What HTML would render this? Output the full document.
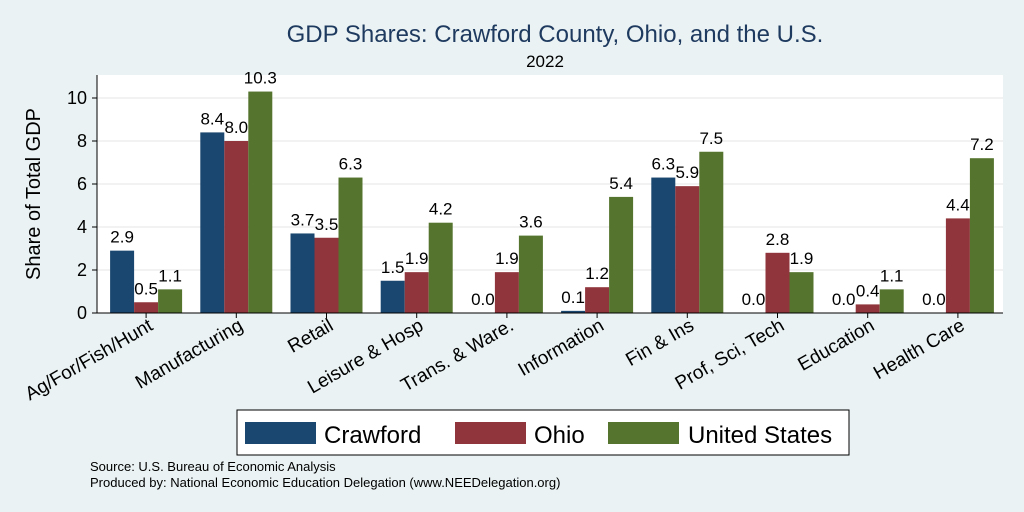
<!DOCTYPE html>
<html><head><meta charset="utf-8"><style>
body{margin:0;background:#eaf2f3;}
svg{display:block;font-family:"Liberation Sans",Arial,sans-serif;}
</style></head><body>
<svg id="c" width="1024" height="512" viewBox="0 0 1024 512">
<rect x="0" y="0" width="1024" height="512" fill="#eaf2f3"/>
<text x="555" y="42" font-size="24" fill="#1e3a5f" text-anchor="middle">GDP Shares: Crawford County, Ohio, and the U.S.</text>
<text x="545" y="67" font-size="17" fill="#000" text-anchor="middle">2022</text>
<rect x="97" y="75" width="906" height="238" fill="#fff"/>
<g id="grid"></g><g id="bars"></g><g id="axes"></g>
<text transform="translate(40,194) rotate(-90)" font-size="20" text-anchor="middle">Share of Total GDP</text>
<g>
<rect x="237" y="410" width="612" height="45" fill="#fff" stroke="#000" stroke-width="1"/>
<g><rect x="245" y="422" width="71" height="22" fill="#1a476f"/><text x="324" y="443" font-size="24">Crawford</text></g>
<g><rect x="455" y="422" width="71" height="22" fill="#90353b"/><text x="534" y="443" font-size="24">Ohio</text></g>
<g><rect x="608" y="422" width="71" height="22" fill="#55752f"/><text x="688" y="443" font-size="24">United States</text></g>
</g>
<text x="90" y="471" font-size="13">Source: U.S. Bureau of Economic Analysis</text>
<text x="90" y="487" font-size="13">Produced by: National Economic Education Delegation (www.NEEDelegation.org)</text>
</svg>
<script>
const categories=["Ag/For/Fish/Hunt","Manufacturing","Retail","Leisure & Hosp","Trans. & Ware.","Information","Fin & Ins","Prof, Sci, Tech","Education","Health Care"];
const crawford=[2.9,8.4,3.7,1.5,0.0,0.1,6.3,0.0,0.0,0.0];
const ohio=[0.5,8.0,3.5,1.9,1.9,1.2,5.9,2.8,0.4,4.4];
const us=[1.1,10.3,6.3,4.2,3.6,5.4,7.5,1.9,1.1,7.2];
const yTicks=[0,2,4,6,8,10];
const NS="http://www.w3.org/2000/svg";
const x0=97,x1=1003,yBase=313,yPer=21.5;
const y=v=>yBase-v*yPer;
const gw=(x1-x0-4)/categories.length, bw=24;
function mk(t,a,p){const e=document.createElementNS(NS,t);for(const k in a)e.setAttribute(k,a[k]);p.appendChild(e);return e;}
const grid=document.getElementById('grid'),bars=document.getElementById('bars'),axes=document.getElementById('axes');
yTicks.forEach(t=>{
 const l=mk('line',{x1:x0,x2:x1,y1:y(t),y2:y(t),stroke:'#e4e4e4','stroke-width':1},grid);
 
 
 const tk=mk('line',{x1:x0-5,x2:x0,y1:y(t),y2:y(t),stroke:'#000'},axes);
 
 
 const tx=mk('text',{x:x0-10,y:y(t)+6,'font-size':18,'text-anchor':'end'},axes);
 tx.textContent=t;
 
 
});
const ax=mk('line',{x1:x0,x2:x0,y1:75,y2:yBase,stroke:'#000'},axes);


const bx=mk('line',{x1:x0,x2:x1,y1:yBase,y2:yBase,stroke:'#000'},axes);


const series=[[crawford,'#1a476f','crawford'],[ohio,'#90353b','ohio'],[us,'#55752f','us']];
categories.forEach((c,i)=>{
 const cx=x0+4+gw*(i+0.5);
 series.forEach(([vals,col,nm],j)=>{
  const bxp=cx-1.5*bw+j*bw;
  const r=mk('rect',{x:bxp,y:y(vals[i]),width:bw,height:vals[i]*yPer,fill:col},bars);
  
  
  const t=mk('text',{x:bxp+bw/2,y:y(vals[i])-8,'font-size':17,'text-anchor':'middle'},bars);
  t.textContent=vals[i].toFixed(1);
  
  
 });
 const tk=mk('line',{x1:cx,x2:cx,y1:yBase,y2:yBase+5,stroke:'#000'},axes);
 
 
 const lb=mk('text',{transform:`translate(${cx+8},${yBase+16}) rotate(-30)`,'font-size':19,'text-anchor':'end'},axes);
 lb.textContent=c;
 
 
});
</script>
</body></html>
